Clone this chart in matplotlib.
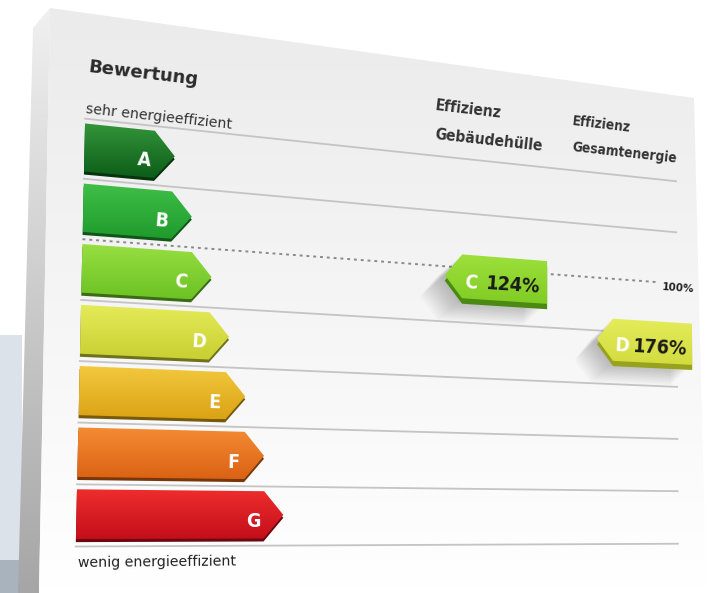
import numpy as np
import matplotlib
matplotlib.use("Agg")
import matplotlib.pyplot as plt
import matplotlib.transforms as mtransforms
from matplotlib.patches import Polygon
from matplotlib.colors import to_rgb
from matplotlib import font_manager as fm

# ---------------- data ----------------
classes = ["A", "B", "C", "D", "E", "F", "G"]
bar_lengths = [13.1, 15.8, 18.9, 21.7, 24.3, 27.3, 30.4]  # arrow length, % of panel width
bar_top_colors = ["#34953a", "#40bf47", "#98df42", "#e4eb58", "#f3c93e", "#f48c34", "#ee2d2d"]
bar_bottom_colors = ["#0c5d18", "#1f9b2d", "#6cc224", "#c8cf32", "#dba315", "#db6214", "#c40f1b"]

column_titles = [("Effizienz", "Gebäudehülle"), ("Effizienz", "Gesamtenergie")]
column_classes = ["C", "D"]
column_values = [124, 176]
reference_value = 100

title = "Bewertung"
label_top = "sehr energieeffizient"
label_bottom = "wenig energieeffizient"

# ---------------- layout ----------------
# perspective calibration: panel (u in %, v in rows) -> image pixels
calib_rows = list(range(8))
calib_left = [(84, 122), (83, 176), (82, 237), (81, 300), (80, 361), (79, 424), (78, 486), (77, 545)]
calib_right = [(682, 187), (682, 234), (682, 283), (682, 328), (682, 383), (682, 438), (682, 495), (682, 547)]

col_spans = [(56.4, 74.5), (83.7, 102.0)]   # tag tip / right end (u)
tag_colors = [("#9ee03c", "#80cc24", "#4a8a12"), ("#e4ec5a", "#d2dc3e", "#98a21e")]

avail = {f.name for f in fm.fontManager.ttflist}
NARROW = "Liberation Sans Narrow" if "Liberation Sans Narrow" in avail else "DejaVu Sans"

pts = []
for v, (x, y) in zip(calib_rows, calib_left):
    pts.append((0.0, v, x, y))
for v, (x, y) in zip(calib_rows, calib_right):
    pts.append((1.0, v, x, y))
A = []
for u, v, x, y in pts:
    x /= 100.0
    y /= 100.0
    A.append([-u, -v, -1, 0, 0, 0, u * x, v * x, x])
    A.append([0, 0, 0, -u, -v, -1, u * y, v * y, y])
_, _, Vt = np.linalg.svd(np.array(A))
H = np.diag([100.0, 100.0, 1.0]) @ Vt[-1].reshape(3, 3)


class Persp(mtransforms.Transform):
    input_dims = 2
    output_dims = 2
    is_separable = False

    def __init__(self, H):
        super().__init__()
        self.H = H

    def transform_non_affine(self, values):
        a = np.asarray(values, dtype=float).reshape(-1, 2)
        X = self.H @ np.vstack([a[:, 0] / 100.0, a[:, 1], np.ones(len(a))])
        return np.column_stack([X[0] / X[2], X[1] / X[2]])


W, Hh = 713, 593
fig = plt.figure(figsize=(W / 100, Hh / 100), dpi=100)
ax = fig.add_axes([0, 0, 1, 1])
ax.set_autoscale_on(False)
ax.set_xlim(0, W)
ax.set_ylim(Hh, 0)
ax.axis("off")

persp = Persp(H)
P = persp + ax.transData


def angle_at(u, v):
    p = persp.transform(np.array([[u, v], [u + 1.0, v]]))
    dx, dy = p[1] - p[0]
    return -np.degrees(np.arctan2(dy, dx))


def ptext(u, v, s, **kw):
    ax.text(u, v, s, transform=P, rotation=angle_at(u, v), rotation_mode="anchor", **kw)


def grad_patch(poly, c_top, c_bot, z, trans=None, pix=None):
    trans = P if trans is None else trans
    patch = Polygon(poly, closed=True, transform=trans, facecolor="none", edgecolor="none", zorder=z)
    ax.add_patch(patch)
    pp = persp.transform(np.array(poly)) if pix is None else np.array(poly)
    x0, x1 = pp[:, 0].min(), pp[:, 0].max()
    y0, y1 = pp[:, 1].min(), pp[:, 1].max()
    t = np.linspace(0, 1, 64)[:, None]
    arr = (1 - t) * np.array(to_rgb(c_top)) + t * np.array(to_rgb(c_bot))
    im = ax.imshow(arr[:, None, :], extent=(x0, x1, y1, y0), origin="upper", aspect="auto",
                   interpolation="bilinear", zorder=z)
    im.set_clip_path(patch)


# ---------------- board (decoration, pixel space) ----------------
ax.add_patch(Polygon([(0, 335), (22, 335), (22, 593), (0, 593)], closed=True, transform=ax.transData,
                     facecolor="#dbe2e9", edgecolor="none", zorder=0))
ax.add_patch(Polygon([(0, 560), (22, 560), (22, 593), (0, 593)], closed=True, transform=ax.transData,
                     facecolor="#a9b3bd", edgecolor="none", zorder=0.1))
grad_patch([(33, 28), (50, 8), (39, 593), (18, 593)], "#f0f0f0", "#a6a6a6", 0.5, trans=ax.transData, pix=True)
grad_patch([(50, 8), (694, 98), (706, 585), (39, 593)], "#ebebeb", "#ffffff", 0.6, trans=ax.transData, pix=True)

# ---------------- row lines ----------------
for v in range(8):
    if v == classes.index("C"):
        continue
    ax.plot([0, 99], [v, v], transform=P, color="#c4c4c4", lw=1.3, zorder=2)

ref_v = classes.index("C")
ax.plot([0, 95.5], [ref_v, ref_v], transform=P, color="#8a8a8a", lw=1.4,
        linestyle=(0, (1.5, 2)), zorder=2)
ptext(96.2, ref_v + 0.08, f"{reference_value}%", fontsize=7.5, fontweight="bold",
      color="#222222", ha="left", va="center", zorder=3)

# ---------------- class arrows ----------------
d = 3.0
for i, (c, L, ct, cb) in enumerate(zip(classes, bar_lengths, bar_top_colors, bar_bottom_colors)):
    vt, vb = i + 0.08, i + 0.88
    vm = (vt + vb) / 2
    poly = [(0, vt), (L - d, vt), (L, vm), (L - d, vb), (0, vb)]
    dark = [(x, y + 0.05) for x, y in poly]
    ax.add_patch(Polygon(dark, closed=True, transform=P, facecolor=tuple(0.55 * np.array(to_rgb(cb))),
                         edgecolor="none", zorder=3))
    grad_patch(poly, ct, cb, 4)
    ptext(L - 4.6, vm + 0.21, c, fontsize=14, fontweight="bold", color="white",
          ha="center", va="baseline", zorder=5, family=[NARROW, "DejaVu Sans"], fontstretch="condensed")

# ---------------- texts ----------------
ptext(0.2, -0.78, title, fontsize=13, fontweight="bold", color="#2a2a2a", ha="left", va="baseline")
ptext(0.0, -0.1, label_top, fontsize=10.2, color="#333333", ha="left", va="baseline")
ptext(0.4, 7.33, label_bottom, fontsize=10.2, color="#222222", ha="left", va="baseline")

title_pos = [(54.5, -0.84, -0.3, 11.2), (79.0, -0.86, -0.36, 9.8)]
for (l1, l2), (u, v1, v2, fs) in zip(column_titles, title_pos):
    for vv, s in ((v1, l1), (v2, l2)):
        ptext(u, vv, s, fontsize=fs, color="#333333", ha="left", va="baseline",
              family=[NARROW, "DejaVu Sans"], fontweight="bold", fontstretch="condensed")

# ---------------- rating tags ----------------
for (tip, right), cls, val, (ct, cb, ce) in zip(col_spans, column_classes, column_values, tag_colors):
    i = classes.index(cls)
    vm = i + 0.16
    hh = 0.4
    poly = [(tip, vm), (tip + d, vm - hh), (right, vm - hh), (right, vm + hh), (tip + d, vm + hh)]
    for k in range(1, 15):
        sh = [(x - 0.3 * k, y + 0.03 * k) for x, y in poly]
        ax.add_patch(Polygon(sh, closed=True, transform=P, facecolor="black", alpha=0.018,
                             edgecolor="none", zorder=5))
    dark = [(x, y + 0.1) for x, y in poly]
    ax.add_patch(Polygon(dark, closed=True, transform=P, facecolor=ce, edgecolor="none", zorder=6))
    grad_patch(poly, ct, cb, 7)
    w = right - tip
    ptext(tip + 0.25 * w, vm + 0.21, cls, fontsize=14, fontweight="bold", color="white",
          ha="center", va="baseline", zorder=8, family=[NARROW, "DejaVu Sans"], fontstretch="condensed")
    ptext(tip + 0.65 * w, vm + 0.21, f"{val}%", fontsize=14, fontweight="bold", color="#1a1a1a",
          ha="center", va="baseline", zorder=8, family=[NARROW, "DejaVu Sans"], fontstretch="condensed")

ax.set_xlim(0, W)
ax.set_ylim(Hh, 0)
fig.savefig("out.png", dpi=100)
